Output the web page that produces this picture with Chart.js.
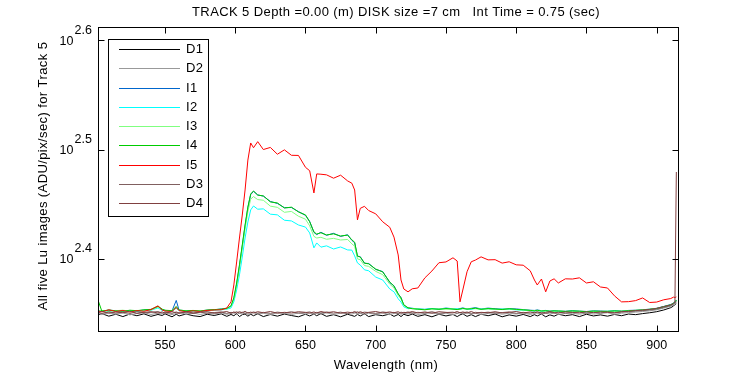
<!DOCTYPE html>
<html>
<head>
<meta charset="utf-8">
<script src="https://cdn.jsdelivr.net/npm/chart.js@4.4.1/dist/chart.umd.min.js"></script>
<style>
  html, body { margin: 0; padding: 0; background: #fff; }
  canvas { display: block; }
</style>
</head>
<body>
<canvas id="luChart" width="750" height="375"></canvas>
<script>
// Wavelength grid (nm), shared by all series
const wavelength = [
    502, 505, 510, 515, 520, 525, 530, 535, 540, 545,
    548, 550, 555, 558, 560, 565, 570, 575, 580, 585,
    590, 594, 597, 599, 601, 603, 605, 607, 609, 611,
    613, 616, 620, 625, 630, 635, 640, 645, 650, 653,
    656, 658, 661, 665, 670, 675, 680, 683, 685, 687,
    689, 692, 695, 700, 705, 710, 713, 716, 718, 720,
    723, 726, 730, 735, 740, 745, 750, 755, 758, 760,
    762, 765, 768, 771, 775, 780, 785, 790, 795, 800,
    805, 810, 813, 815, 818, 821, 824, 827, 830, 835,
    840, 845, 850, 855, 860, 865, 870, 875, 880, 885,
    890, 895, 900, 905, 910, 912, 913, 914
];

// Lu values (ADU/pix/sec)
const D1 = [
    223.1, 223.9, 222.7, 223.6, 222.5, 223.7, 222.9, 223.8, 222.6, 223.5,
    223.0, 223.8, 222.4, 223.6, 222.8, 223.7, 222.9, 222.5, 223.6, 223.0,
    223.8, 222.6, 223.5, 222.9, 223.9, 222.5, 223.4, 223.7, 222.7, 223.6,
    222.9, 223.8, 222.5, 223.5, 222.7, 223.7, 223.0, 222.4, 223.6, 222.8,
    223.7, 222.9, 223.9, 222.6, 223.4, 222.4, 223.6, 223.0, 222.6, 223.5,
    222.8, 223.8, 222.5, 223.4, 222.9, 223.7, 222.6, 223.5, 222.5, 223.6,
    222.9, 223.7, 222.6, 223.4, 222.4, 223.6, 222.8, 223.5, 222.5, 223.3,
    223.8, 222.6, 223.4, 222.5, 223.6, 222.9, 223.7, 222.4, 223.3, 222.7,
    223.5, 222.5, 223.4, 222.8, 223.7, 222.4, 223.3, 222.7, 223.6, 222.9,
    223.4, 222.5, 223.6, 222.8, 223.3, 222.7, 223.5, 222.9, 223.7, 223.4,
    223.9, 224.3, 224.8, 225.6, 226.7, 227.5, 228.2, 228.8
];
const D2 = [
    224.1, 223.4, 224.3, 223.6, 224.2, 223.3, 224.0, 224.4, 223.5, 224.1,
    223.7, 224.3, 223.4, 224.0, 224.5, 223.6, 224.2, 223.5, 224.1, 223.7,
    224.3, 223.6, 224.0, 224.4, 223.4, 224.2, 223.7, 224.3, 223.5, 224.0,
    224.4, 223.6, 224.1, 223.4, 224.3, 224.0, 223.5, 224.2, 223.7, 224.4,
    223.5, 224.1, 223.7, 224.3, 223.4, 224.2, 224.0, 223.6, 224.4, 223.7,
    224.2, 223.5, 224.1, 223.6, 224.3, 223.4, 224.0, 224.2, 223.6, 224.1,
    223.7, 224.3, 223.5, 224.0, 224.2, 223.6, 224.1, 223.4, 224.0, 224.3,
    223.6, 224.2, 223.7, 224.1, 223.5, 224.0, 224.3, 223.6, 224.1, 223.7,
    224.2, 223.5, 224.0, 224.3, 223.6, 224.1, 223.7, 224.2, 223.5, 224.0,
    224.1, 223.6, 224.2, 223.7, 224.0, 224.3, 223.6, 224.1, 224.4, 224.6,
    224.9, 225.2, 225.7, 226.5, 227.4, 228.1, 228.7, 229.3
];
const I1 = [
    225.3, 225.2, 225.5, 225.3, 225.1, 225.4, 225.2, 225.6, 225.8, 227.2,
    225.9, 225.4, 225.2, 230.2, 225.5, 225.3, 225.3, 225.2, 225.5, 225.7,
    226.1, 226.3, 227.4, 231.0, 238.2, 247.5, 258.1, 269.2, 279.8, 287.6,
    289.6, 287.4, 286.7, 283.5, 282.3, 279.8, 279.9, 277.5, 275.3, 271.8,
    265.6, 264.4, 265.7, 264.0, 265.1, 263.4, 264.3, 261.2, 259.9, 252.5,
    252.4, 248.9, 248.8, 245.7, 244.6, 239.0, 237.4, 233.2, 231.6, 227.9,
    226.7, 226.4, 226.1, 225.9, 226.3, 226.1, 226.5, 226.2, 226.0, 226.3,
    226.6, 226.1, 226.4, 226.7, 226.1, 226.5, 226.2, 226.0, 226.3, 226.1,
    225.8, 225.5, 225.4, 225.6, 225.3, 225.4, 225.1, 225.3, 225.2, 225.0,
    225.3, 225.1, 224.9, 225.2, 225.1, 225.0, 225.3, 225.1, 225.4, 225.5,
    225.7, 226.0, 226.4, 227.3, 228.2, 228.9, 229.6, 230.4
];
const I2 = [
    225.0, 225.3, 224.9, 225.4, 225.1, 225.2, 224.8, 225.3, 225.5, 226.6,
    225.4, 225.2, 225.0, 226.5, 225.3, 225.1, 225.0, 225.3, 225.2, 225.5,
    225.7, 226.0, 226.6, 229.5, 235.3, 242.9, 252.2, 262.5, 271.5, 278.5,
    280.8, 278.9, 279.1, 276.0, 275.6, 272.5, 272.1, 269.8, 268.6, 265.3,
    257.1, 259.8, 257.5, 258.2, 256.5, 257.6, 256.0, 255.9, 252.8, 249.1,
    248.0, 245.5, 245.0, 241.8, 240.3, 235.8, 234.4, 231.0, 229.4, 227.1,
    226.2, 226.4, 226.1, 225.9, 226.3, 226.0, 226.4, 226.1, 226.2, 225.9,
    226.3, 226.1, 225.9, 226.4, 226.0, 226.2, 225.8, 226.1, 225.9, 225.7,
    225.5, 225.3, 225.1, 225.4, 225.0, 225.2, 224.9, 225.1, 225.0, 224.8,
    225.1, 224.9, 224.7, 225.0, 224.8, 225.0, 225.1, 224.9, 225.2, 225.3,
    225.5, 225.8, 226.1, 226.9, 227.8, 228.6, 229.2, 230.0
];
const I3 = [
    225.1, 225.4, 225.0, 225.3, 225.5, 225.1, 225.4, 225.2, 225.6, 227.0,
    225.8, 225.3, 225.4, 226.9, 225.5, 225.3, 225.2, 225.4, 225.3, 225.7,
    225.9, 226.2, 227.3, 230.8, 237.5, 246.6, 256.9, 267.5, 277.6, 284.9,
    286.4, 284.6, 284.2, 280.7, 280.0, 277.1, 277.6, 274.8, 273.1, 269.3,
    263.4, 262.5, 262.9, 261.8, 262.3, 261.4, 261.7, 259.3, 258.0, 251.2,
    250.8, 247.7, 247.3, 244.7, 243.0, 238.2, 236.3, 232.6, 230.8, 227.7,
    226.5, 226.3, 226.1, 225.8, 226.0, 226.2, 226.0, 226.2, 225.9, 226.0,
    226.2, 226.1, 226.3, 226.2, 226.0, 226.1, 225.9, 226.0, 226.1, 225.8,
    225.6, 225.4, 225.3, 225.3, 225.2, 225.1, 225.1, 225.0, 225.2, 225.0,
    225.0, 225.1, 224.9, 225.0, 224.9, 225.1, 225.0, 225.1, 225.2, 225.5,
    225.7, 226.0, 226.2, 227.0, 228.0, 228.7, 229.3, 230.1
];
const I4 = [
    231.0, 225.1, 225.6, 225.2, 225.0, 225.5, 225.3, 225.7, 225.9, 227.4,
    226.0, 225.5, 225.3, 227.3, 225.6, 225.2, 225.4, 225.1, 225.6, 225.8,
    226.0, 226.4, 227.6, 231.5, 238.8, 248.1, 258.7, 269.8, 280.2, 288.0,
    289.8, 287.3, 286.8, 283.2, 282.6, 279.6, 280.1, 277.3, 275.6, 271.6,
    265.9, 264.7, 265.4, 264.2, 264.8, 263.6, 264.1, 261.5, 260.2, 252.8,
    252.2, 249.0, 248.6, 245.9, 244.4, 239.3, 237.2, 233.5, 231.4, 228.1,
    226.6, 226.2, 226.0, 225.7, 226.2, 225.9, 226.3, 226.0, 225.8, 226.1,
    226.4, 226.0, 226.2, 226.5, 225.9, 226.3, 226.1, 225.8, 226.2, 225.9,
    225.7, 225.4, 225.2, 225.5, 225.1, 225.3, 225.0, 225.2, 225.1, 224.9,
    225.2, 225.0, 224.8, 225.1, 225.0, 224.9, 225.2, 225.0, 225.3, 225.4,
    225.6, 225.9, 226.3, 227.2, 228.1, 228.8, 229.5, 230.3
];
const I5 = [
    225.2, 224.7, 225.7, 224.9, 225.4, 224.6, 225.3, 225.0, 225.8, 227.6,
    225.6, 225.1, 224.9, 226.8, 225.3, 224.8, 225.2, 224.9, 225.4, 225.6,
    225.7, 226.6, 229.5, 237.8, 249.6, 262.5, 275.5, 290.4, 309.3, 320.6,
    317.4, 321.5, 316.2, 317.6, 313.1, 316.0, 312.4, 312.3, 304.6, 302.4,
    288.6, 300.4, 300.2, 299.8, 297.7, 299.6, 296.0, 294.6, 290.4, 272.7,
    279.4, 280.6, 278.1, 276.2, 271.6, 268.5, 263.0, 253.3, 240.3, 235.8,
    234.4, 235.9, 236.3, 241.4, 244.9, 249.2, 249.6, 251.8, 250.1, 229.5,
    235.3, 244.5, 249.7, 250.6, 252.3, 250.7, 250.8, 249.0, 249.7, 248.1,
    247.9, 245.0, 240.3, 237.8, 240.8, 234.4, 239.8, 240.9, 238.8, 240.9,
    240.8, 241.4, 238.8, 239.4, 236.8, 236.3, 232.4, 229.5, 229.6, 230.1,
    231.4, 229.2, 229.4, 230.5, 231.1, 231.8, 231.6, 231.9
];
const D3 = [
    224.5, 223.9, 224.7, 224.1, 224.6, 224.0, 224.8, 224.2, 224.5, 224.9,
    224.1, 224.6, 224.0, 224.7, 224.2, 224.5, 223.9, 224.6, 224.1, 224.4,
    224.7, 224.0, 224.5, 224.2, 224.8, 224.1, 224.6, 223.9, 224.5, 224.2,
    224.7, 224.1, 224.5, 224.0, 224.6, 224.2, 224.8, 224.1, 224.4, 224.7,
    224.0, 224.5, 224.2, 224.7, 224.1, 224.6, 223.9, 224.5, 224.2, 224.8,
    224.1, 224.6, 224.4, 224.0, 224.7, 224.2, 224.5, 223.9, 224.6, 224.2,
    224.7, 224.1, 224.5, 224.2, 224.8, 224.0, 224.4, 224.6, 224.1, 224.5,
    224.2, 224.7, 224.0, 224.5, 224.2, 224.6, 224.1, 224.4, 224.7, 224.0,
    224.5, 224.1, 224.6, 224.2, 224.4, 224.0, 224.5, 224.2, 224.6, 224.1,
    224.4, 224.6, 224.1, 224.5, 224.2, 224.7, 224.4, 224.6, 224.9, 225.1,
    225.3, 225.6, 226.0, 226.8, 227.7, 228.4, 229.0, 229.6
];
const D4 = [
    224.2, 224.9, 224.1, 224.7, 224.3, 225.0, 224.0, 224.5, 224.8, 224.2,
    224.7, 224.1, 224.8, 224.3, 224.0, 224.9, 224.2, 224.6, 224.8, 224.1,
    224.5, 224.9, 224.1, 224.7, 224.2, 224.8, 224.3, 225.0, 224.1, 224.6,
    224.2, 224.8, 224.3, 224.9, 224.1, 224.5, 224.2, 224.8, 224.5, 224.1,
    224.7, 224.2, 224.9, 224.3, 224.8, 224.1, 224.6, 224.3, 224.9, 224.2,
    224.8, 224.1, 224.5, 224.9, 224.2, 224.7, 224.3, 224.8, 224.1, 224.5,
    224.3, 224.9, 224.2, 224.7, 224.1, 224.8, 224.5, 224.2, 224.9, 224.3,
    224.7, 224.2, 224.9, 224.1, 224.5, 224.3, 224.8, 224.2, 224.5, 224.9,
    224.2, 224.7, 224.3, 224.8, 224.1, 224.5, 224.9, 224.3, 224.2, 224.7,
    224.5, 224.2, 224.8, 224.3, 224.7, 224.5, 224.2, 224.8, 225.0, 225.3,
    225.6, 225.9, 226.4, 227.2, 228.0, 228.8, 229.4, 301.6
];

const seriesNames = ['D1', 'D2', 'I1', 'I2', 'I3', 'I4', 'I5', 'D3', 'D4'];
const seriesValues = [D1, D2, I1, I2, I3, I4, I5, D3, D4];
const seriesColors = ['#000000', '#999999', '#0066cc', '#00ffff', '#80ff80',
                      '#00cc00', '#ff0000', '#806060', '#804040'];

// axes
const xTicks = [550, 600, 650, 700, 750, 800, 850, 900];
const yTickExps = [2.4, 2.5, 2.6];
const xMin = 502.3, xMax = 915.9;
const yMin = 215.4, yMax = 409.2;

const FAMILY = '"Liberation Sans", Arial, sans-serif';

function spaced(ctx, px) {
    if ('letterSpacing' in ctx) ctx.letterSpacing = px + 'px';
}

// MATLAB style box, inward ticks, labels and legend
const matlabAxes = {
    id: 'matlabAxes',
    afterDraw(chart) {
        const ctx = chart.ctx;
        const a = chart.chartArea;
        const xs = chart.scales.x, ys = chart.scales.y;
        const L = Math.round(a.left) + 0.5, R = Math.round(a.right) - 0.5;
        const T = Math.round(a.top) + 0.5, B = Math.round(a.bottom) - 0.5;
        ctx.save();
        ctx.strokeStyle = '#000';
        ctx.lineWidth = 1;
        ctx.strokeRect(L, T, R - L, B - T);
        ctx.beginPath();
        xTicks.forEach(v => {
            const px = Math.round(xs.getPixelForValue(v)) + 0.5;
            ctx.moveTo(px, B); ctx.lineTo(px, B - 6);
            ctx.moveTo(px, T); ctx.lineTo(px, T + 6);
        });
        yTickExps.forEach(e => {
            const py = Math.round(ys.getPixelForValue(Math.pow(10, e))) + 0.5;
            ctx.moveTo(L, py); ctx.lineTo(L + 6, py);
            ctx.moveTo(R, py); ctx.lineTo(R - 6, py);
        });
        ctx.stroke();

        ctx.fillStyle = '#000';
        ctx.textBaseline = 'middle';
        ctx.textAlign = 'center';
        ctx.font = '12.5px ' + FAMILY;
        spaced(ctx, 0);
        xTicks.forEach(v => ctx.fillText(String(v), xs.getPixelForValue(v), B + 14));
        yTickExps.forEach(e => {
            const py = ys.getPixelForValue(Math.pow(10, e));
            ctx.textAlign = 'right';
            ctx.fillText('10', L - 25, py + 1);
            ctx.textAlign = 'left';
            ctx.fillText(e.toFixed(1), L - 24, py - 10);
        });

        ctx.font = '13px ' + FAMILY;
        spaced(ctx, 0.4);
        ctx.textAlign = 'center';
        ctx.fillText('TRACK 5 Depth =0.00 (m) DISK size =7 cm   Int Time = 0.75 (sec)', 396, 12.5);
        ctx.fillText('Wavelength (nm)', 386, 365);
        ctx.save();
        ctx.translate(43, 176);
        ctx.rotate(-Math.PI / 2);
        ctx.fillText('All five Lu images (ADU/pix/sec) for Track 5', 0, 0);
        ctx.restore();

        // legend
        ctx.font = '13px ' + FAMILY;
        spaced(ctx, 0.3);
        ctx.fillStyle = '#fff';
        ctx.fillRect(108.5, 39.5, 100, 177);
        ctx.strokeStyle = '#000';
        ctx.strokeRect(108.5, 39.5, 100, 177);
        ctx.textAlign = 'left';
        seriesNames.forEach((name, i) => {
            const yy = Math.round(49 + i * 19.25) + 0.5;
            ctx.strokeStyle = seriesColors[i];
            ctx.beginPath();
            ctx.moveTo(119, yy); ctx.lineTo(180, yy);
            ctx.stroke();
            ctx.fillStyle = '#000';
            ctx.fillText(name, 186, yy);
        });
        ctx.restore();
    }
};

new Chart(document.getElementById('luChart'), {
    type: 'line',
    data: {
        datasets: seriesNames.map((name, i) => ({
            label: name,
            data: seriesValues[i].map((v, k) => ({ x: wavelength[k], y: v })),
            borderColor: seriesColors[i],
            borderWidth: 1,
            pointRadius: 0,
            tension: 0,
            fill: false,
            order: seriesNames.length - 1 - i
        }))
    },
    options: {
        responsive: false,
        animation: false,
        devicePixelRatio: 1,
        layout: { padding: { left: 98, top: 27, right: 71, bottom: 43 } },
        scales: {
            x: { type: 'linear', display: false, min: xMin, max: xMax },
            y: { type: 'logarithmic', display: false, min: yMin, max: yMax }
        },
        plugins: {
            legend: { display: false },
            tooltip: { enabled: false },
            title: { display: false }
        }
    },
    plugins: [matlabAxes]
});
</script>
</body>
</html>
